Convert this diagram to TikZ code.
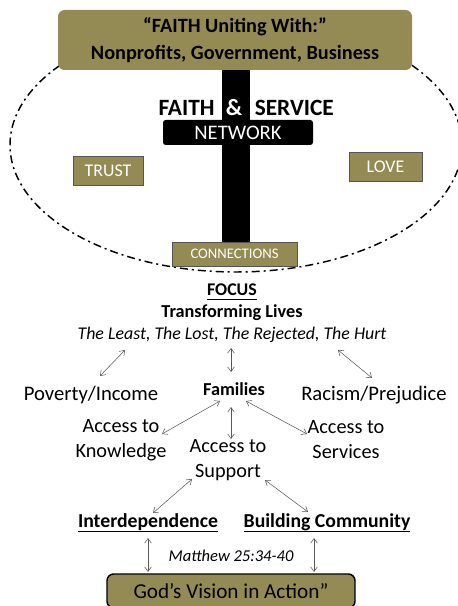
\documentclass[tikz,border=0pt]{standalone}
\usepackage{fontspec}
\setmainfont{Carlito}
\newcommand{\underrule}[1]{\setbox0=\hbox{#1}\rlap{\vrule height -2.2pt depth 3.1pt width \wd0}\box0}
\usetikzlibrary{arrows.meta,positioning}
\definecolor{oliveFill}{HTML}{948A54}
\definecolor{boxLine}{HTML}{555555}
\definecolor{arrowGray}{HTML}{595959}
\begin{document}
\begin{tikzpicture}[x=0.75pt,y=-0.75pt]
%styles des noeuds
\tikzstyle{boxTop}=[rectangle, rounded corners=5pt, fill=oliveFill, text=black, align=center, font=\fontsize{15.2pt}{20.25pt}\selectfont\bfseries, minimum width=265.5pt, minimum height=45pt]
\tikzstyle{boxWord}=[rectangle, fill=oliveFill, draw=boxLine, line width=0.6pt, text=white, inner sep=0pt]
\tikzstyle{boxVision}=[rectangle, rounded corners=5pt, fill=oliveFill, draw=black, line width=1.1pt, text=black, font=\fontsize{15.9pt}{19pt}\selectfont, minimum width=186pt, minimum height=25.5pt]
\tikzstyle{textBig}=[rectangle, text=black, align=center, inner sep=0pt, font=\fontsize{15.5pt}{18.75pt}\selectfont]
\tikzstyle{textBold}=[rectangle, text=black, inner sep=0pt, font=\fontsize{13.7pt}{16pt}\selectfont\bfseries]
\tikzstyle{textTitle}=[rectangle, text=black, inner sep=0pt, font=\fontsize{14.8pt}{17pt}\selectfont\bfseries]
\tikzstyle{textIt}=[rectangle, text=black, inner sep=0pt, font=\fontsize{13.4pt}{16pt}\selectfont\itshape]
\tikzstyle{textCross}=[rectangle, inner sep=0pt, font=\fontsize{17.5pt}{20pt}\selectfont\bfseries]
\useasboundingbox (0,0) rectangle (457,606);
%figure
\draw[line width=1.1pt, dash pattern=on 6pt off 3pt on 1.5pt off 3pt] (236,145) ellipse [x radius=169.5pt, y radius=95.25pt];
\fill[black] (222,60) rectangle (250,250);
%nodes
\node[boxTop] (faithTop) at (235,40) {``FAITH Uniting With:''\\Nonprofits, Government, Business};

\node[rectangle, fill=black, rounded corners=2pt, text=white, inner sep=0pt, minimum width=112.5pt, minimum height=18.75pt, font=\fontsize{15.5pt}{18pt}\selectfont] (network) at (238,132.5) {NETWORK};
\node[textCross, text=white] (amp) at (234,108) {\&};
\node[textCross, left=8pt of amp] (faith) {FAITH};
\node[textCross, right=9pt of amp] (service) {SERVICE};

\node[boxWord, minimum width=52.5pt, minimum height=21.75pt, font=\fontsize{13.4pt}{15pt}\selectfont] (trust) at (108,171) {TRUST};
\node[boxWord, minimum width=54.75pt, minimum height=21.75pt, font=\fontsize{13.4pt}{15pt}\selectfont] (love) at (385.5,166.5) {LOVE};
\node[boxWord, minimum width=93.75pt, minimum height=18pt, font=\fontsize{11pt}{13pt}\selectfont] (connections) at (234.5,254) {CONNECTIONS};

%text
\node[textBold, font=\fontsize{13.4pt}{16pt}\selectfont\bfseries] (focus) at (232,292) {\underrule{FOCUS}};
\node[textBold] (lives) at (232,313) {Transforming Lives};
\node[textIt] (hurt) at (232,335) {The Least, The Lost, The Rejected, The Hurt};

\node[textBig] (poverty) at (91,395) {Poverty/Income};
\node[textBold] (families) at (234,389) {Families};
\node[textBig] (racism) at (374,395) {Racism/Prejudice};

\node[textBig, font=\fontsize{15.2pt}{18.75pt}\selectfont] (knowledge) at (121,440) {Access to\\Knowledge};
\node[textBig, font=\fontsize{15.2pt}{18.75pt}\selectfont] (support) at (228,460) {Access to\\Support};
\node[textBig, font=\fontsize{15.2pt}{18.75pt}\selectfont] (services) at (346,440) {Access to\\Services};

\node[textTitle] (interdep) at (148,523) {\underrule{Interdependence}};
\node[textTitle] (building) at (327,523) {\underrule{Building Community}};
\node[textIt, font=\fontsize{12.4pt}{15pt}\selectfont\itshape] (matthew) at (231,556) {Matthew 25:34-40};

\node[boxVision] (vision) at (231,591) {God’s Vision in Action”};

%fleches
\tikzstyle{arrowBoth}=[{Straight Barb[length=3.5pt,width=5pt]}-{Straight Barb[length=3.5pt,width=5pt]}, thin, arrowGray]
\draw[arrowBoth] ([shift={(-107,15)}]hurt.center) -- ([shift={(9,-19)}]poverty.center);
\draw[arrowBoth] ([shift={(-1,13)}]hurt.center) -- ([shift={(-3,-17)}]families.center);
\draw[arrowBoth] ([shift={(106,15)}]hurt.center) -- ([shift={(-2,-17)}]racism.center);
\draw[arrowBoth] ([shift={(-14,12)}]families.center) -- ([shift={(41,-6)}]knowledge.center);
\draw[arrowBoth] ([shift={(-3,18)}]families.center) -- ([shift={(3,-21)}]support.center);
\draw[arrowBoth] ([shift={(12,12)}]families.center) -- ([shift={(-39,-6)}]services.center);
\draw[arrowBoth] ([shift={(-36,19)}]support.center) -- ([shift={(5,-10)}]interdep.center);
\draw[arrowBoth] ([shift={(37,20)}]support.center) -- ([shift={(-19,-11)}]building.center);
\draw[arrowBoth] ([shift={(0,15)}]interdep.center) -- ([shift={(-83,-19)}]vision.center);
\draw[arrowBoth] ([shift={(-13,15)}]building.center) -- ([shift={(83,-19)}]vision.center);
\end{tikzpicture}
\end{document}
